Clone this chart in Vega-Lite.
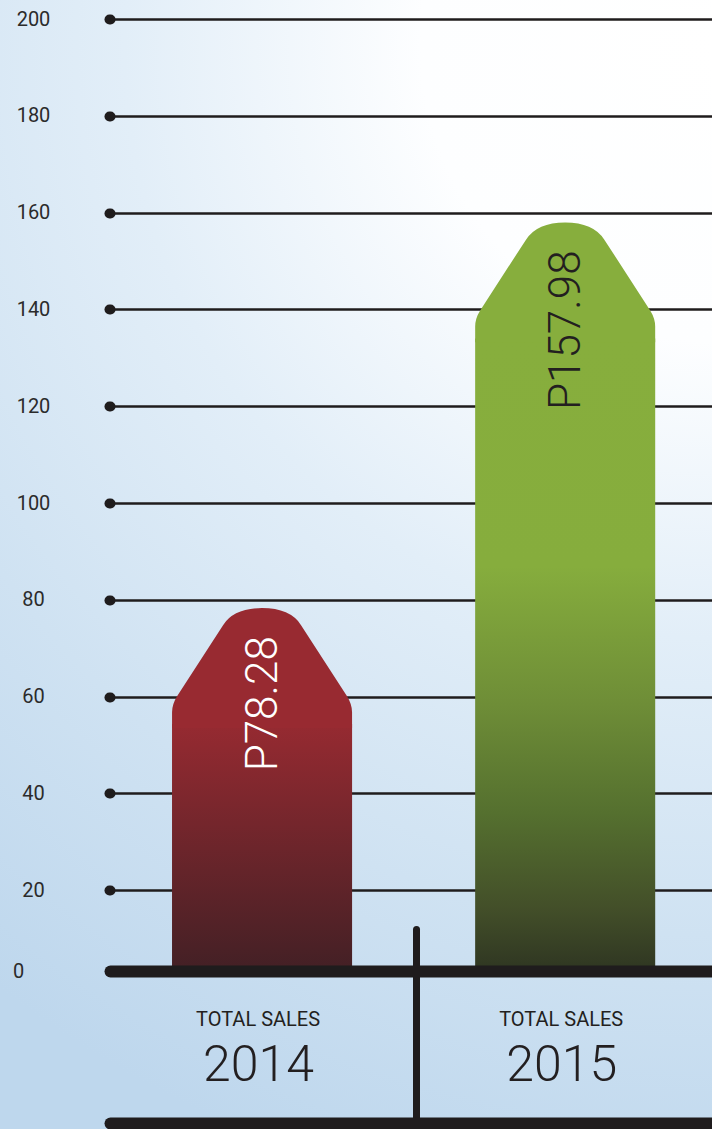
{
  "$schema": "https://vega.github.io/schema/vega-lite/v6.json",
  "width": 712,
  "height": 1129,
  "autosize": {"type": "none"},
  "padding": 0,
  "view": {
    "stroke": null,
    "fill": {
      "gradient": "radial",
      "x1": 0.82, "y1": 0.04, "r1": 0,
      "x2": 0.82, "y2": 0.04, "r2": 1.05,
      "stops": [
        {"offset": 0, "color": "#ffffff"},
        {"offset": 0.25, "color": "#fdfeff"},
        {"offset": 0.5, "color": "#e2eef8"},
        {"offset": 0.75, "color": "#cfe2f2"},
        {"offset": 1, "color": "#bed7ed"}
      ]
    }
  },
  "data": {
    "values": [
      {"year": "2014", "sales": 78.28},
      {"year": "2015", "sales": 157.98}
    ]
  },
  "resolve": {"axis": {"x": "independent", "y": "independent"}},
  "layer": [
    {
      "mark": {"type": "bar", "yOffset": 116, "y2Offset": -16},
      "encoding": {
        "x": {
          "field": "year",
          "type": "nominal",
          "scale": {
            "domain": ["2014", "2015"],
            "range": [110, 712],
            "paddingInner": 0.406,
            "paddingOuter": 0.196,
            "align": 0.522
          },
          "axis": {
            "orient": "bottom",
            "offset": -158,
            "title": null,
            "zindex": 1,
            "domain": true,
            "domainWidth": 12,
            "domainColor": "#1f1c1d",
            "domainCap": "round",
            "ticks": false,
            "labelExpr": "'TOTAL SALES'",
            "labelFont": "Roboto",
            "labelFontSize": 20,
            "labelColor": "#231f20",
            "labelAngle": 0,
            "labelBaseline": "alphabetic",
            "labelPadding": 54,
            "labelOffset": -4
          }
        },
        "y": {
          "field": "sales",
          "type": "quantitative",
          "scale": {"domain": [0, 200], "range": [987, 19], "nice": false},
          "axis": {
            "orient": "left",
            "offset": -110,
            "title": null,
            "values": [0, 20, 40, 60, 80, 100, 120, 140, 160, 180, 200],
            "domain": false,
            "grid": false,
            "ticks": true,
            "tickSize": 1,
            "tickWidth": 10,
            "tickCap": "round",
            "tickColor": "#1f1c1d",
            "tickOpacity": {"condition": {"test": "datum.value === 0", "value": 0}, "value": 1},
            "labelFont": "Roboto",
            "labelFontSize": 20,
            "labelColor": "#2b2b2b",
            "labelAlign": "center",
            "labelBaseline": "middle",
            "labelPadding": {"condition": {"test": "datum.value === 0", "value": 91}, "value": 76},
            "labelOffset": {"condition": {"test": "datum.value === 0", "value": -16}, "value": 0}
          }
        },
        "y2": {"datum": 0},
        "fill": {
          "condition": {
            "test": "datum.year === '2014'",
            "value": {
              "gradient": "linear",
              "x1": 0, "y1": 0, "x2": 0, "y2": 1,
              "stops": [
                {"offset": 0, "color": "#962a31"},
                {"offset": 1, "color": "#432025"}
              ]
            }
          },
          "value": {
            "gradient": "linear",
            "x1": 0, "y1": 0, "x2": 0, "y2": 1,
            "stops": [
              {"offset": 0, "color": "#87ae3d"},
              {"offset": 0.36, "color": "#86ad3d"},
              {"offset": 0.58, "color": "#6e8d37"},
              {"offset": 0.75, "color": "#55702f"},
              {"offset": 0.9, "color": "#434f29"},
              {"offset": 1, "color": "#2f3622"}
            ]
          }
        }
      }
    },
    {
      "mark": {
        "type": "point",
        "shape": "M-1,1.3333L-1,1.1556Q-1,1.0667,-0.9444,0.9778L-0.4333,0.1889Q-0.3111,0,0,0Q0.3111,0,0.4333,0.1889L0.9444,0.9778Q1,1.0667,1,1.1556L1,1.3333Z",
        "size": 32400,
        "filled": true,
        "opacity": 1,
        "strokeWidth": 0
      },
      "encoding": {
        "x": {
          "field": "year",
          "type": "nominal",
          "axis": {
            "orient": "bottom",
            "offset": -6,
            "title": null,
            "zindex": 1,
            "domain": true,
            "domainWidth": 12,
            "domainColor": "#1f1c1d",
            "domainCap": "round",
            "ticks": true,
            "tickSize": -194,
            "tickWidth": 7,
            "tickCap": "round",
            "tickColor": "#1f1c1d",
            "tickOffset": 154,
            "labelOffset": -158,
            "labelFont": "Roboto",
            "labelFontWeight": 300,
            "labelFontSize": 50,
            "labelColor": "#231f20",
            "labelAngle": 0,
            "labelBaseline": "alphabetic",
            "labelPadding": 151
          }
        },
        "y": {
          "field": "sales",
          "type": "quantitative",
          "axis": {
            "orient": "left",
            "offset": -110,
            "title": null,
            "values": [20, 40, 60, 80, 100, 120, 140, 160, 180, 200],
            "domain": false,
            "grid": false,
            "labels": false,
            "ticks": true,
            "tickSize": -602,
            "tickWidth": 2.6,
            "tickColor": "#1f1c1d"
          }
        },
        "fill": {
          "condition": {"test": "datum.year === '2014'", "value": "#982a31"},
          "value": "#87ae3d"
        }
      }
    },
    {
      "mark": {
        "type": "text",
        "angle": 270,
        "align": "right",
        "baseline": "middle",
        "font": "Roboto",
        "fontWeight": 300,
        "fontSize": 44,
        "yOffset": 28,
        "xOffset": 2,
        "text": {"expr": "'P' + format(datum.sales, '.2f')"}
      },
      "encoding": {
        "x": {"field": "year", "type": "nominal", "axis": null},
        "y": {"field": "sales", "type": "quantitative", "axis": null},
        "fill": {
          "condition": {"test": "datum.year === '2014'", "value": "#ffffff"},
          "value": "#231f20"
        }
      }
    }
  ]
}
